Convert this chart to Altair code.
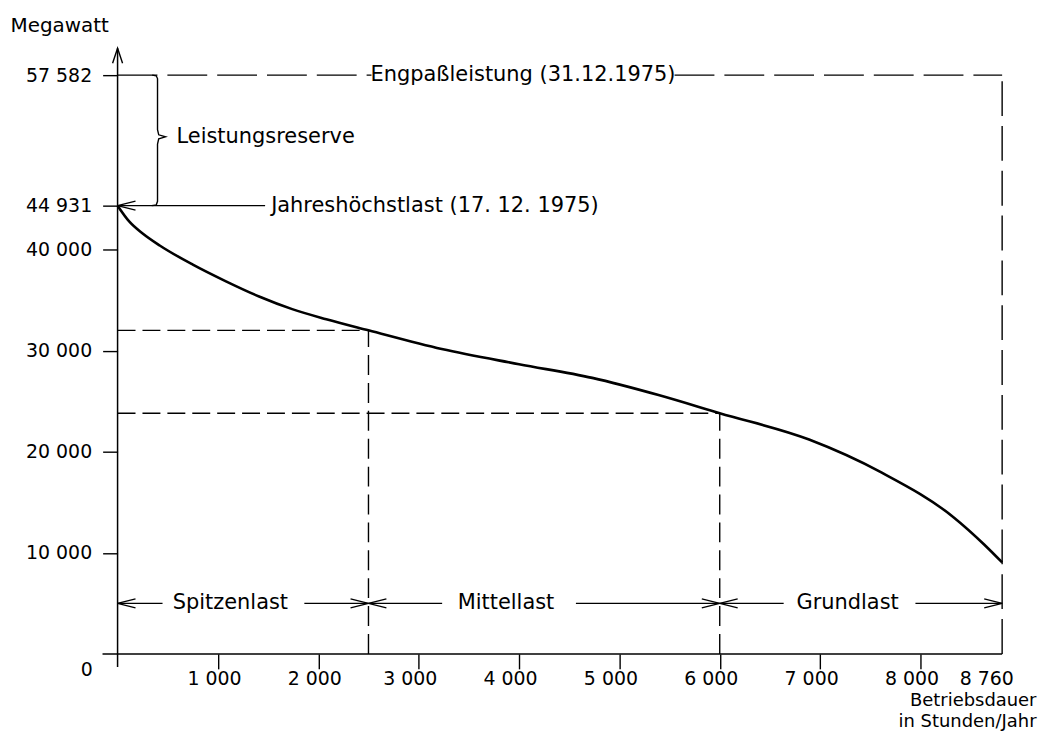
import altair as alt
import pandas as pd

FONT = "DejaVu Sans"

# ---- data ----
hours = [0, 120, 250, 420, 750, 1080, 1410, 1740, 2080, 2500, 3230, 4000,
         4730, 5390, 6000, 6890, 7610, 8310, 8590, 8760]
load_mw = [44931, 43100, 41800, 40450, 38500, 36850, 35350, 34100, 33100,
           32000, 30150, 28650, 27300, 25600, 23800, 21200, 17950, 13500,
           10850, 9050]

peak_load = 44931
capacity = 57582
hours_year = 8760
split_peak = 2500
split_mid = 6000
load_at_peak_split = 32000
load_at_mid_split = 23800

y_ticks = [10000, 20000, 30000, 40000, 44931, 57582]
x_ticks = [1000, 2000, 3000, 4000, 5000, 6000, 7000, 8000, 8760]

band_names = ["Spitzenlast", "Mittellast", "Grundlast"]
band_start = [0, 2500, 6000]
band_end = [2500, 6000, 8760]
band_label_x = [1124, 3870, 7274]
band_gap_left = [448, 3234, 6637]
band_gap_right = [1861, 4567, 7950]
band_level = 5000

cap_label = "Engpaßleistung (31.12.1975)"
cap_label_x = 4040
cap_gap = [2530, 5550]
peak_label = "Jahreshöchstlast (17. 12. 1975)"
peak_label_x = 1530
peak_line_end = 1470
reserve_label = "Leistungsreserve"
reserve_label_x = 587
reserve_mid = 51600

# ---- scales (the drawing is slightly uneven, so piecewise) ----
xs = alt.Scale(domain=[0, 8000, 8760], range=[0, 806, 888], nice=False, zero=False)
ys = alt.Scale(domain=[0, 40000, 44931, 57582, 60000], range=[608, 202, 158, 27, 0],
               nice=False, zero=False)

def X(f, axis="default"):
    if axis == "default":
        return alt.X(f, type="quantitative", scale=xs)
    return alt.X(f, type="quantitative", scale=xs, axis=axis)

def Y(f, axis="default"):
    if axis == "default":
        return alt.Y(f, type="quantitative", scale=ys)
    return alt.Y(f, type="quantitative", scale=ys, axis=axis)

fmt = "replace(format(datum.value, ','), ',', ' ')"

x_axis = alt.Axis(
    values=x_ticks, domain=False, grid=False, tickSize=15, tickWidth=1.4,
    tickColor="black", labelFont=FONT, labelFontSize=19, labelColor="black",
    labelPadding=1, labelExpr=fmt, labelOverlap=False, labelFlush=False,
    labelAlign="center",
    labelOffset={"condition": [
        {"test": "datum.value == 8760", "value": -16},
        {"test": "datum.value <= 2000", "value": -4},
    ], "value": -9},
    tickOpacity={"condition": {"test": "datum.value == 8760", "value": 0}, "value": 1},
    title=["Betriebsdauer", "in Stunden/Jahr"], titleFont=FONT, titleFontSize=18,
    titleFontWeight="normal", titleColor="black", titleX=922, titleY=38,
    titleAlign="right", titleBaseline="top", titleLineHeight=21,
)
y_axis = alt.Axis(
    values=y_ticks, domain=False, grid=False, tickSize=15, tickWidth=1.4,
    tickColor="black", labelFont=FONT, labelFontSize=19, labelColor="black",
    labelPadding=11, labelExpr=fmt, labelOverlap=False, labelFlush=False,
    labelBaseline="middle",
    title="Megawatt", titleFont=FONT, titleFontSize=20, titleFontWeight="normal",
    titleColor="black", titleAngle=0, titleX=-108, titleY=-23, titleAlign="left",
    titleBaseline="middle",
)

curve_df = pd.DataFrame({"h": hours, "mw": load_mw})

curve = alt.Chart(curve_df).mark_line(
    color="black", strokeWidth=2.6, interpolate="monotone"
).encode(x=X("h", x_axis), y=Y("mw", y_axis))

# axis lines
axes_h = alt.Chart(pd.DataFrame({"x": [-150], "x2": [hours_year], "y": [0]})).mark_rule(
    color="black", strokeWidth=1.5).encode(x=X("x"), x2="x2", y=Y("y"))
axes_v = alt.Chart(pd.DataFrame({"x": [0], "y": [-1300], "y2": [60000]})).mark_rule(
    color="black", strokeWidth=1.5).encode(x=X("x"), y=Y("y"), y2="y2")

# dashed helper lines
dash_h = alt.Chart(pd.DataFrame({
    "x": [0, 0], "x2": [split_peak, split_mid],
    "y": [load_at_peak_split, load_at_mid_split]})).mark_rule(
    color="black", strokeWidth=1.4, strokeDash=[18, 7]).encode(x=X("x"), x2="x2", y=Y("y"))
dash_v = alt.Chart(pd.DataFrame({
    "x": [split_peak, split_mid], "y": [0, 0],
    "y2": [load_at_peak_split, load_at_mid_split]})).mark_rule(
    color="black", strokeWidth=1.4, strokeDash=[20, 8]).encode(x=X("x"), y=Y("y"), y2="y2")
dash_right = alt.Chart(pd.DataFrame({"x": [hours_year], "y": [0], "y2": [capacity]})).mark_rule(
    color="black", strokeWidth=1.4, strokeDash=[35, 10]).encode(x=X("x"), y=Y("y"), y2="y2")
dash_top = alt.Chart(pd.DataFrame({
    "x": [0, cap_gap[1]], "x2": [cap_gap[0], hours_year],
    "y": [capacity, capacity]})).mark_rule(
    color="black", strokeWidth=1.4, strokeDash=[40, 10]).encode(x=X("x"), x2="x2", y=Y("y"))

# band arrows
seg_x = band_start + band_gap_right
seg_x2 = band_gap_left + band_end
band_lines = alt.Chart(pd.DataFrame({
    "x": seg_x, "x2": seg_x2, "y": [band_level] * 6})).mark_rule(
    color="black", strokeWidth=1.4).encode(x=X("x"), x2="x2", y=Y("y"))

peak_line = alt.Chart(pd.DataFrame({"x": [0], "x2": [peak_line_end], "y": [peak_load]})).mark_rule(
    color="black", strokeWidth=1.4).encode(x=X("x"), x2="x2", y=Y("y"))

LEFT = "M2,-0.5L0,0L2,0.5"
RIGHT = "M-2,-0.5L0,0L-2,0.5"
UP = "M-0.667,2L0,0L0.667,2"

heads_left = alt.Chart(pd.DataFrame({
    "x": band_start + [0], "y": [band_level] * 3 + [peak_load]})).mark_point(
    shape=LEFT, size=324, filled=False, color="black", strokeWidth=1.4, opacity=1
).encode(x=X("x"), y=Y("y"))
heads_right = alt.Chart(pd.DataFrame({
    "x": band_end, "y": [band_level] * 3})).mark_point(
    shape=RIGHT, size=324, filled=False, color="black", strokeWidth=1.4, opacity=1
).encode(x=X("x"), y=Y("y"))
head_up = alt.Chart(pd.DataFrame({"x": [0], "y": [60000]})).mark_point(
    shape=UP, size=225, filled=False, color="black", strokeWidth=1.4, opacity=1
).encode(x=X("x"), y=Y("y"))

# brace between peak load and capacity
brace_h = [345, 385, 398, 398, 410, 478, 410, 398, 398, 385, 340]
brace_mw = [capacity, 57520, 57250, 52300, 51800, reserve_mid, 51400, 50900,
            45350, 44990, peak_load]
brace = alt.Chart(pd.DataFrame({"h": brace_h, "mw": brace_mw, "i": range(len(brace_h))})).mark_line(
    color="black", strokeWidth=1.4).encode(x=X("h"), y=Y("mw"), order="i:Q")

# texts
center_txt = alt.Chart(pd.DataFrame({
    "t": [cap_label] + band_names,
    "x": [cap_label_x] + band_label_x,
    "y": [capacity] + [band_level] * 3})).mark_text(
    font=FONT, fontSize=21, color="black", align="center", baseline="middle"
).encode(x=X("x"), y=Y("y"), text="t")
left_txt = alt.Chart(pd.DataFrame({
    "t": [reserve_label, peak_label],
    "x": [reserve_label_x, peak_label_x],
    "y": [reserve_mid, peak_load]})).mark_text(
    font=FONT, fontSize=21, color="black", align="left", baseline="middle"
).encode(x=X("x"), y=Y("y"), text="t")
zero_txt = alt.Chart(pd.DataFrame({"t": ["0"], "x": [0], "y": [0]})).mark_text(
    font=FONT, fontSize=19, color="black", align="center", baseline="middle", dx=-31, dy=16
).encode(x=X("x"), y=Y("y"), text="t")

chart = alt.layer(
    curve, dash_h, dash_v, dash_right, dash_top, band_lines, peak_line, brace,
    heads_left, heads_right, head_up, axes_h, axes_v,
    center_txt, left_txt, zero_txt,
).properties(
    width=920, height=608,
    autosize=alt.AutoSizeParams(type="none"),
    padding={"left": 110, "top": 39, "right": 4, "bottom": 81},
    background="white",
).configure_view(stroke=None)

chart.save("out.html", embed_options={"renderer": "svg", "actions": False})
